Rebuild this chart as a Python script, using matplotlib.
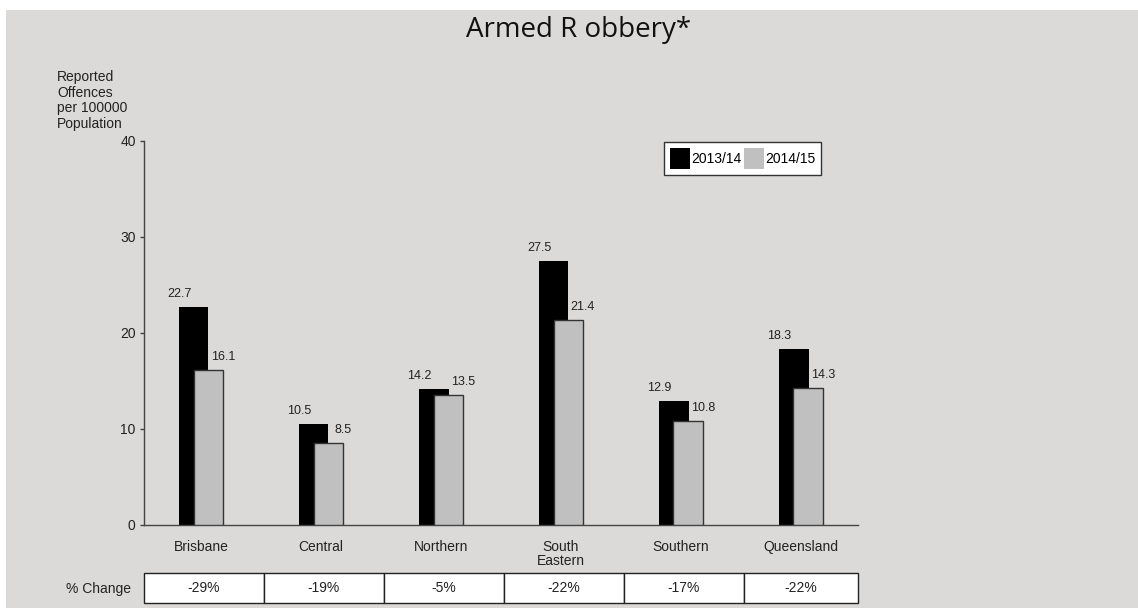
import numpy as np
import matplotlib.pyplot as plt
from matplotlib.patches import Patch, Rectangle

categories = ["Brisbane", "Central", "Northern", "South\nEastern", "Southern", "Queensland"]
values_1314 = [22.7, 10.5, 14.2, 27.5, 12.9, 18.3]
values_1415 = [16.1, 8.5, 13.5, 21.4, 10.8, 14.3]
pct_change = ["-29%", "-19%", "-5%", "-22%", "-17%", "-22%"]
series_names = ["2013/14", "2014/15"]
y_ticks = [0, 10, 20, 30, 40]

plt.rcParams['font.family'] = ['Liberation Sans', 'DejaVu Sans']

W, H = 1138, 608
bg = "#dcdad8"
fig = plt.figure(figsize=(W / 100, H / 100), dpi=100)
fig.patch.set_facecolor("white")
# grey panel (white strip top and left)
fig.patches.append(Rectangle((6 / W, 0), 1, 1 - 10 / H, transform=fig.transFigure,
                             facecolor=bg, edgecolor="none", zorder=-10))

ax = fig.add_axes([144 / W, (H - 525) / H, 714 / W, 384 / H])
ax.patch.set_alpha(0)

x = np.arange(len(categories)) + 0.475
bw = 0.245
off = 0.06
ax.bar(x - off, values_1314, width=bw, color="black", zorder=2)
ax.bar(x + off, values_1415, width=bw, color="#c0c0c0", edgecolor="#333333",
       linewidth=1, zorder=3)

for xi, v in zip(x - off - bw / 2, values_1314):
    ax.annotate(f"{v}", (xi, v), xytext=(0, 5), textcoords="offset points",
                ha="center", va="bottom", fontsize=9, color="#222222")
for xi, v in zip(x + off + bw / 2, values_1415):
    ax.annotate(f"{v}", (xi, v), xytext=(0, 5), textcoords="offset points",
                ha="center", va="bottom", fontsize=9, color="#222222")

ax.set_xlim(0, 5.95)
ax.set_ylim(0, 40)
ax.set_yticks(y_ticks)
ax.set_xticks(x)
ax.set_xticklabels(categories, fontsize=10, color="#222222", linespacing=1.0)
ax.tick_params(axis="x", length=0, pad=11)
ax.tick_params(axis="y", direction="out", length=3, width=1, color="#444444",
               labelsize=10, labelcolor="#222222", pad=3)
for s in ["top", "right"]:
    ax.spines[s].set_visible(False)
for s in ["left", "bottom"]:
    ax.spines[s].set_color("#444444")
    ax.spines[s].set_linewidth(1)

handles = [Patch(facecolor="black", edgecolor="none"),
           Patch(facecolor="#c0c0c0", edgecolor="none")]
leg = ax.legend(handles, series_names, ncol=2, loc="upper left",
                bbox_to_anchor=((664 - 144) / 714, (525 - 142) / 384),
                borderaxespad=0, fontsize=10, handlelength=1.45, handleheight=2.0,
                handletextpad=0.1, columnspacing=0.2, borderpad=0.4,
                fancybox=False, framealpha=1)
leg.get_frame().set_edgecolor("#333333")
leg.get_frame().set_linewidth(1)

fig.text(579 / W, 1 - 30 / H, "Armed R obbery*", ha="center", va="center",
         fontsize=20, family=["Open Sans", "DejaVu Sans"], color="#111111")
fig.text(57 / W, 1 - 70 / H, "Reported\nOffences\nper 100000\nPopulation",
         ha="left", va="top", fontsize=10, color="#222222", linespacing=1.15)

# % change table
tax = fig.add_axes([144 / W, (H - 603) / H, 714 / W, 30 / H])
tax.axis("off")
col_w = [1 / 5.95] * 5 + [0.95 / 5.95]
tab = tax.table(cellText=[pct_change], colWidths=col_w, bbox=[0, 0, 1, 1],
                cellLoc="center")
tab.auto_set_font_size(False)
for (r, c), cell in tab.get_celld().items():
    cell.set_facecolor("white")
    cell.set_edgecolor("#222222")
    cell.set_linewidth(1)
    cell.get_text().set_fontsize(10)
    cell.get_text().set_color("#222222")
fig.text(98 / W, 1 - 589 / H, "% Change", ha="center", va="center",
         fontsize=10, color="#222222")

fig.savefig("out.png", dpi=100)
